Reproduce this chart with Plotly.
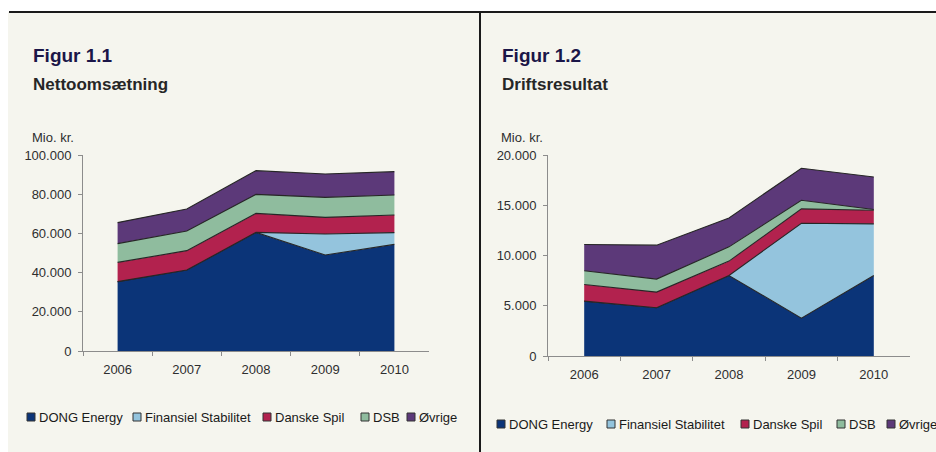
import plotly.graph_objects as go

W, H = 936, 452

years = ["2006", "2007", "2008", "2009", "2010"]
series = ["DONG Energy", "Finansiel Stabilitet", "Danske Spil", "DSB", "Øvrige"]
colors = ["#0B3478", "#94C4DD", "#B2224E", "#8FBC9E", "#5C3979"]

# Figur 1.1 Nettoomsætning, mio. kr.
oms_dong = [35400, 41300, 60500, 49000, 54400]
oms_fs = [0, 0, 0, 10700, 6000]
oms_spil = [9800, 9900, 9700, 8500, 9000]
oms_dsb = [9600, 10000, 9700, 10200, 10200]
oms_ovr = [10700, 11200, 12100, 11900, 11900]

# Figur 1.2 Driftsresultat, mio. kr.
drift_dong = [5460, 4800, 8010, 3770, 8010]
drift_fs = [0, 0, 0, 9440, 5140]
drift_spil = [1660, 1560, 1430, 1430, 1350]
drift_dsb = [1360, 1290, 1420, 860, 70]
drift_ovr = [2610, 3380, 2880, 3180, 3240]

FONT = "Liberation Sans, Arial, Helvetica, sans-serif"
BG = "#F5F5EE"
INK = "#2E2E2E"
NAVY = "#1B1648"
EDGE = "#262626"
AXIS = "#8C8C8C"


def px(x):
    return x / W


def py(y):
    return 1 - y / H


fig = go.Figure()

panels = [
    ("x", "y", "a", [oms_dong, oms_fs, oms_spil, oms_dsb, oms_ovr]),
    ("x2", "y2", "b", [drift_dong, drift_fs, drift_spil, drift_dsb, drift_ovr]),
]
for xa, ya, grp, vals in panels:
    for name, col, v in zip(series, colors, vals):
        fig.add_trace(go.Scatter(x=years, y=v, name=name, xaxis=xa, yaxis=ya,
                                 stackgroup=grp, mode="lines", fillcolor=col,
                                 line=dict(color=EDGE, width=1.1), showlegend=False,
                                 hoverinfo="x+y+name"))

ax = dict(type="category", range=[-0.5, 4.5], showline=True, linecolor=AXIS, linewidth=1,
          ticks="outside", tickson="boundaries", ticklen=4, tickcolor=AXIS,
          showgrid=False, zeroline=False, tickfont=dict(size=13, color=INK),
          ticklabelstandoff=6, fixedrange=True)
ay = dict(showline=True, linecolor=AXIS, linewidth=1, ticks="outside", ticklen=4,
          tickcolor=AXIS, showgrid=False, zeroline=False, tickformat=",",
          tickfont=dict(size=13, color=INK), ticklabelstandoff=4, fixedrange=True)

fig.update_layout(
    xaxis=dict(ax, domain=[px(83), px(429)], anchor="y"),
    yaxis=dict(ay, domain=[py(351), py(155)], anchor="x", range=[0, 100000], dtick=20000),
    xaxis2=dict(ax, domain=[px(548), px(910)], anchor="y2"),
    yaxis2=dict(ay, domain=[py(356), py(155)], anchor="x2", range=[0, 20000], dtick=5000),
)

shapes = [
    # white page strips, frame lines
    dict(type="rect", xref="paper", yref="paper", x0=0, x1=1, y0=py(12), y1=1,
         fillcolor="white", line_width=0, layer="below"),
    dict(type="rect", xref="paper", yref="paper", x0=0, x1=px(8), y0=0, y1=1,
         fillcolor="white", line_width=0, layer="below"),
    dict(type="line", xref="paper", yref="paper", x0=px(9), x1=1, y0=py(12), y1=py(12),
         line=dict(color="#1A1A1A", width=2)),
    dict(type="line", xref="paper", yref="paper", x0=px(480), x1=px(480), y0=py(12), y1=0,
         line=dict(color="#1A1A1A", width=2)),
]
ann = []

# titles
for x0, fig_no, title in [(33, "Figur 1.1", "Nettoomsætning"), (502, "Figur 1.2", "Driftsresultat")]:
    ann.append(dict(text=f"<b>{fig_no}</b>", x=px(x0 - 2), y=py(56), xanchor="left", yanchor="middle",
                    font=dict(size=19, color=NAVY)))
    ann.append(dict(text=f"<b>{title}</b>", x=px(x0 - 2), y=py(84), xanchor="left", yanchor="middle",
                    font=dict(size=17, color="#262626")))
    ann.append(dict(text="Mio. kr.", x=px(x0 - 3), y=py(137), xanchor="left", yanchor="middle",
                    font=dict(size=13, color=INK)))

# legends below each panel
legend_rows = [
    (417, [27, 133, 263, 361, 407]),
    (424, [497, 607, 741, 837, 887]),
]
for cy, xs in legend_rows:
    for name, col, sx in zip(series, colors, xs):
        shapes.append(dict(type="rect", xref="paper", yref="paper", x0=px(sx), x1=px(sx + 8),
                           y0=py(cy + 4), y1=py(cy - 4), fillcolor=col,
                           line=dict(color="#333333", width=1)))
        ann.append(dict(text=name, x=px(sx + 10), y=py(cy), xanchor="left", yanchor="middle",
                        font=dict(size=13, color="#1A1A1A")))

for a in ann:
    a.update(xref="paper", yref="paper", showarrow=False)

fig.update_layout(
    width=W, height=H, shapes=shapes, annotations=ann,
    paper_bgcolor=BG, plot_bgcolor="rgba(0,0,0,0)",
    font=dict(family=FONT, color=INK), separators=",.",
    margin=dict(l=0, r=0, t=0, b=0, autoexpand=False), showlegend=False,
)

# page margin off so the 936x452 figure fills the window exactly
fig.write_html("out.html", config={"displayModeBar": False},
               post_script="document.body.style.margin='0';")
